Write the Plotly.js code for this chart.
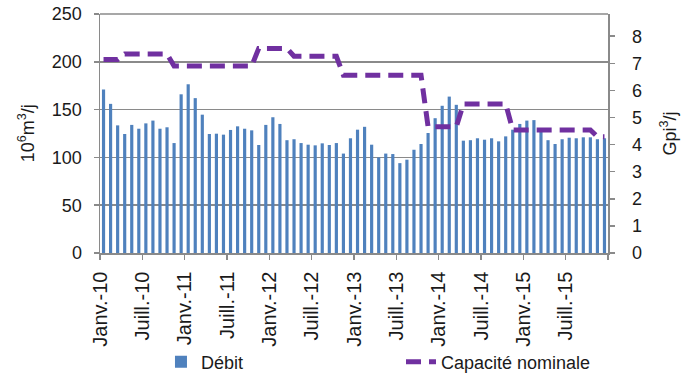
<!DOCTYPE html>
<html>
<head>
<meta charset="utf-8">
<script src="https://cdn.plot.ly/plotly-3.0.1.min.js"></script>
<style>
    html, body { margin: 0; padding: 0; background: #fff; }
    #chart { width: 685px; height: 379px; }
</style>
</head>
<body>
<div id="chart"></div>
<script>
// Monthly index, Jan 2010 .. Dec 2015
const months = Array.from({length: 72}, (_, i) => i);

// Débit (10^6 m3/j)
const debit = [
    171, 156, 133.5, 124.5, 134, 130, 135.6, 138.5, 130, 131.5, 115, 166,
    176.5, 162, 144.7, 124.5, 124.8, 123.8, 128.7, 132.5, 130, 128.3, 113, 134,
    142, 135, 118, 119, 115, 113.3, 112.6, 114.7, 113, 115, 104, 120,
    129, 132, 113.3, 100, 104, 103.5, 94, 97.6, 108, 114, 125.5, 141,
    154, 163.6, 155, 117.5, 118, 120, 118.5, 120, 116.8, 122, 129, 135,
    138.5, 139, 129, 118, 114, 119, 120.6, 120, 121, 121, 119, 120
];

// Capacité nominale (Gpi3/j), secondary axis
const capacite = [
    7.14, 7.14, 7.14, 7.34, 7.34, 7.34, 7.34, 7.34, 7.34, 7.34, 6.9, 6.9,
    6.9, 6.9, 6.9, 6.9, 6.9, 6.9, 6.9, 6.9, 6.9, 6.9, 7.55, 7.55,
    7.55, 7.55, 7.55, 7.26, 7.26, 7.26, 7.26, 7.26, 7.26, 7.26, 6.56, 6.56,
    6.56, 6.56, 6.56, 6.56, 6.56, 6.56, 6.56, 6.56, 6.56, 6.56, 4.66, 4.66,
    4.66, 4.66, 4.66, 5.5, 5.5, 5.5, 5.5, 5.5, 5.5, 5.5, 4.54, 4.54,
    4.54, 4.54, 4.54, 4.54, 4.54, 4.54, 4.54, 4.54, 4.54, 4.54, 4.29, 4.29
];

// Tick labels every six months (last tick closes the axis)
const tickLabels = [
    'Janv.-10', 'Juill.-10', 'Janv.-11', 'Juill.-11', 'Janv.-12', 'Juill.-12',
    'Janv.-13', 'Juill.-13', 'Janv.-14', 'Juill.-14', 'Janv.-15', 'Juill.-15', ''
];
const tickPositions = tickLabels.map((_, k) => k * 6 - 0.5);

const gridGray = '#8a8a8a';
const font = { family: 'Liberation Sans, Arial, sans-serif', size: 18, color: '#1a1a1a' };

const data = [
    {
        x: months,
        y: debit,
        type: 'bar',
        name: 'Débit',
        marker: { color: '#4F81BD' },
        hoverinfo: 'skip'
    },
    {
        x: months,
        y: capacite,
        type: 'scatter',
        mode: 'lines',
        name: 'Capacité nominale',
        yaxis: 'y2',
        line: { color: '#7030A0', width: 5, dash: '15px,8px' },
        hoverinfo: 'skip'
    }
];

const layout = {
    width: 685,
    height: 379,
    margin: { l: 100, r: 77, t: 14, b: 126, autoexpand: false },
    paper_bgcolor: '#fff',
    plot_bgcolor: '#fff',
    font: font,
    bargap: 0.55,
    showlegend: true,
    legend: {
        orientation: 'h',
        xref: 'container',
        yref: 'container',
        x: 0.235,
        xanchor: 'left',
        y: 0.045,
        yanchor: 'middle',
        entrywidth: 195,
        entrywidthmode: 'pixels',
        bgcolor: 'rgba(0,0,0,0)',
        font: font
    },
    xaxis: {
        range: [-0.5, 71.5],
        tickmode: 'array',
        tickvals: tickPositions,
        ticktext: tickLabels,
        tickangle: -90,
        tickfont: { family: font.family, size: 20, color: font.color },
        ticks: 'outside',
        ticklen: 5,
        tickwidth: 1.5,
        tickcolor: gridGray,
        ticklabelstandoff: 4,
        showline: true,
        linecolor: gridGray,
        linewidth: 1.5,
        showgrid: false,
        zeroline: false,
        automargin: false
    },
    yaxis: {
        range: [0, 250],
        dtick: 50,
        ticks: 'outside',
        ticklen: 5,
        tickwidth: 1.5,
        tickcolor: gridGray,
        ticklabelstandoff: 8,
        showline: true,
        linecolor: gridGray,
        linewidth: 1.5,
        showgrid: true,
        gridcolor: gridGray,
        gridwidth: 1.5,
        zeroline: false,
        automargin: false
    },
    yaxis2: {
        range: [0, 8.82],
        dtick: 1,
        overlaying: 'y',
        side: 'right',
        ticks: 'outside',
        ticklen: 5,
        tickwidth: 1.5,
        tickcolor: gridGray,
        ticklabelstandoff: 14,
        showline: true,
        linecolor: gridGray,
        linewidth: 1.5,
        showgrid: false,
        zeroline: false,
        automargin: false,
        title: { text: 'Gpi<sup>3</sup>/j', font: font, standoff: 22 }
    },
    annotations: [{
        // left axis title, placed by hand so it sits close to the tick labels
        text: '10<sup>6</sup>m<sup>3</sup>/j',
        xref: 'paper', yref: 'paper',
        x: -0.144, y: 0.5,
        xanchor: 'center', yanchor: 'middle',
        textangle: -90,
        showarrow: false,
        font: font
    }],
    shapes: [{
        // top border of the plot area
        type: 'line', xref: 'paper', yref: 'paper',
        x0: 0, x1: 1, y0: 1, y1: 1,
        line: { color: gridGray, width: 1.5 }
    }]
};

Plotly.newPlot('chart', data, layout, { displayModeBar: false, staticPlot: true });
</script>
</body>
</html>
